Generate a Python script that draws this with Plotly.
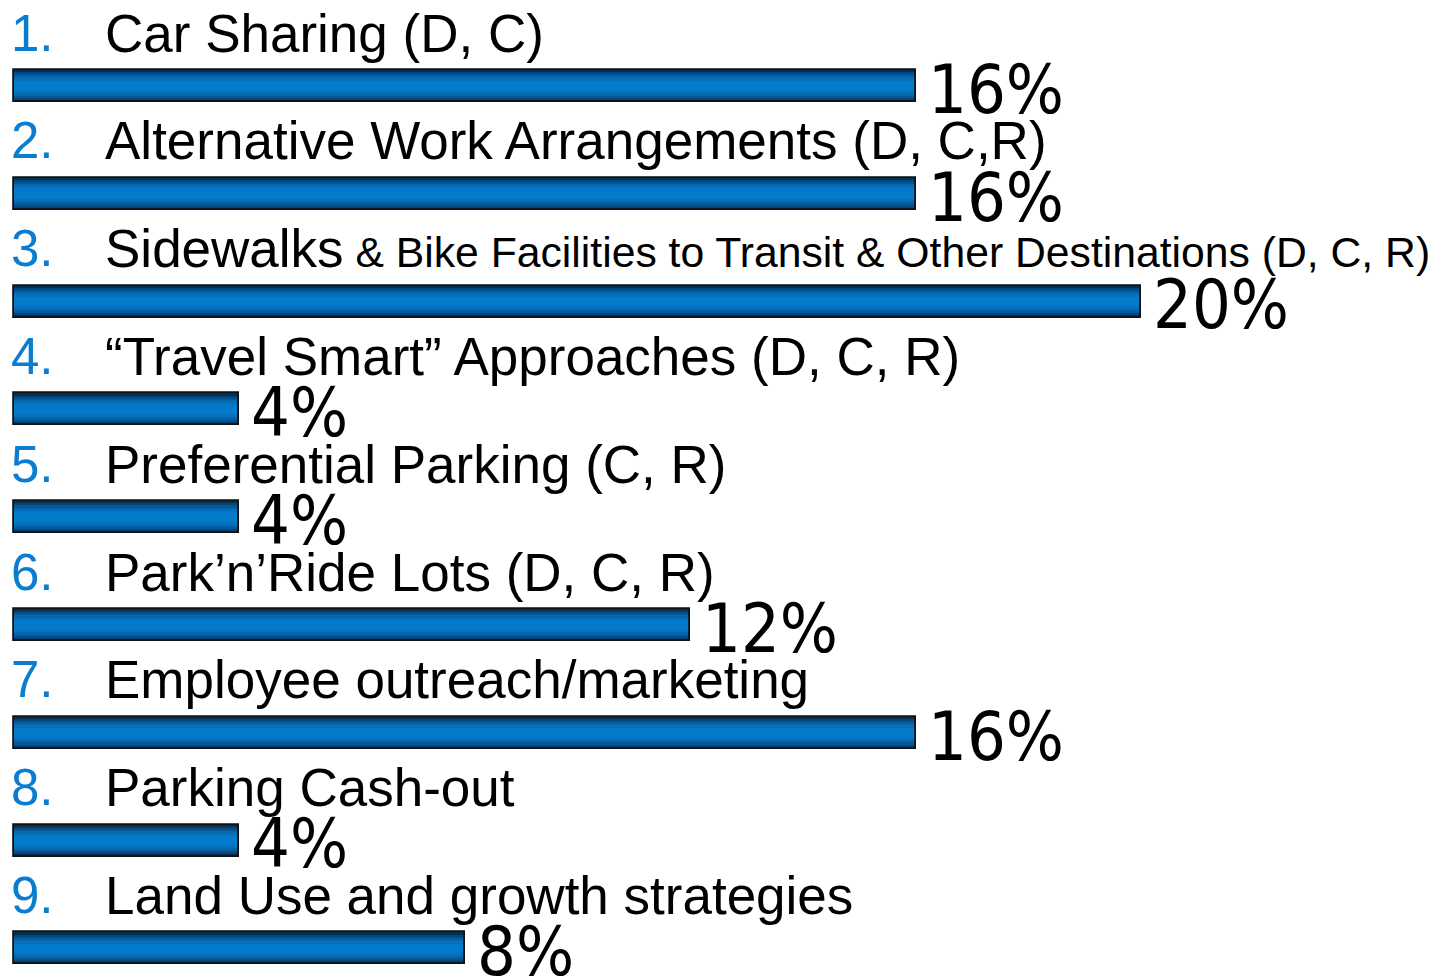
import plotly.graph_objects as go

numbers = ["1.", "2.", "3.", "4.", "5.", "6.", "7.", "8.", "9."]
labels = [
    "Car Sharing (D, C)",
    "Alternative Work Arrangements (D, C,R)",
    "Sidewalks<span style='font-size:42.7px'> & Bike Facilities to Transit &amp; Other Destinations (D, C, R)</span>",
    "\u201cTravel Smart\u201d Approaches (D, C, R)",
    "Preferential Parking (C, R)",
    "Park\u2019n\u2019Ride Lots (D, C, R)",
    "Employee outreach/marketing",
    "Parking Cash-out",
    "Land Use and growth strategies",
]
values = [16, 16, 20, 4, 4, 12, 16, 4, 8]
pct_labels = [f"{v}%" for v in values]
rows = list(range(len(values)))

# the page body adds an 8px margin, so the figure is a little smaller
OFF = 8
W, H = 1439 - OFF, 976 - OFF
x0_px, px_per = 14 - OFF, 56.35
row0_px, row_px = 86 - OFF, 107.8
bar_w = 32 / row_px

xr = [-x0_px / px_per, (W - x0_px) / px_per]
yr = [(H - row0_px) / row_px, -row0_px / row_px]

fig = go.Figure()

layers = [
    (1.00, "#022f55"),
    (0.86, "#04457a"),
    (0.74, "#055897"),
    (0.60, "#0767ae"),
    (0.46, "#0672bf"),
    (0.30, "#047aca"),
]
for frac, col in layers:
    fig.add_trace(go.Bar(
        x=values, y=rows, orientation="h", width=bar_w * frac,
        marker=dict(color=col, line=dict(width=0)),
        hoverinfo="skip", showlegend=False,
    ))
fig.add_trace(go.Bar(
    x=values, y=rows, orientation="h", width=bar_w,
    marker=dict(color="rgba(0,0,0,0)", line=dict(color="#111111", width=1.8)),
    hoverinfo="skip", showlegend=False,
))

pct_font = dict(family="DejaVu Sans Condensed, Liberation Sans Narrow, Arial Narrow, sans-serif",
                size=68, color="#000000", weight="normal")
for r, v, t in zip(rows, values, pct_labels):
    fig.add_annotation(x=v, y=r + 0.03, xref="x", yref="y", text=t, showarrow=False,
                       xanchor="left", yanchor="middle", xshift=10, font=pct_font)

for r, num, lab in zip(rows, numbers, labels):
    fig.add_annotation(x=1 / W, xref="paper", y=r - 0.49, yref="y",
                       text=num, showarrow=False, xanchor="left", yanchor="middle",
                       font=dict(family="Liberation Sans, Arial, sans-serif", size=51, color="#0A7DD0"))
    fig.add_annotation(x=(105 - OFF - 2) / W, xref="paper", y=r - 0.49, yref="y",
                       text=lab, showarrow=False, xanchor="left", yanchor="middle",
                       font=dict(family="Liberation Sans, Arial, sans-serif", size=53, color="#000000"))

fig.update_layout(
    width=W, height=H, barmode="overlay", bargap=0,
    margin=dict(l=0, r=0, t=0, b=0),
    paper_bgcolor="white", plot_bgcolor="white",
    xaxis=dict(range=xr, visible=False, fixedrange=True),
    yaxis=dict(range=yr, visible=False, fixedrange=True),
)

fig.write_html("out.html")
